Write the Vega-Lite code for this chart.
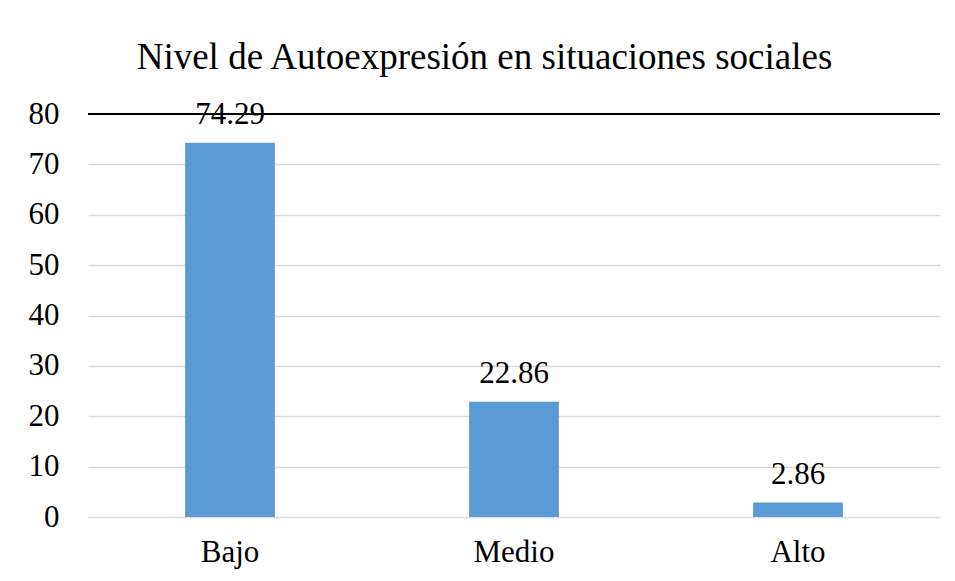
{
  "$schema": "https://vega.github.io/schema/vega-lite/v6.json",
  "autosize": {"type": "none"},
  "width": 852,
  "height": 403,
  "padding": {"left": 88, "top": 114, "right": 15, "bottom": 64},
  "background": "white",
  "title": {
    "text": "Nivel de Autoexpresión en situaciones sociales",
    "font": "Liberation Serif",
    "fontSize": 37,
    "fontWeight": "normal",
    "color": "#000000",
    "anchor": "middle",
    "frame": "bounds",
    "offset": 21,
    "limit": 0
  },
  "config": {
    "font": "Liberation Serif",
    "view": {"stroke": null},
    "text": {"font": "Liberation Serif"},
    "axis": {
      "labelFont": "Liberation Serif",
      "labelColor": "#000000",
      "labelFontSize": 31,
      "ticks": false,
      "domain": false,
      "title": null
    }
  },
  "data": {
    "values": [
      {"nivel": "Bajo", "pct": 74.29},
      {"nivel": "Medio", "pct": 22.86},
      {"nivel": "Alto", "pct": 2.86}
    ]
  },
  "encoding": {
    "x": {
      "field": "nivel",
      "type": "nominal",
      "sort": null,
      "scale": {"paddingInner": 0.684, "paddingOuter": 0.342},
      "axis": {"labelAngle": 0, "labelPadding": 20, "grid": false, "labelFont": "Liberation Serif", "labelFontSize": 31}
    }
  },
  "layer": [
    {
      "mark": {"type": "bar", "color": "#5B9BD5"},
      "encoding": {
        "y": {
          "field": "pct",
          "type": "quantitative",
          "scale": {"domain": [0, 80], "nice": false},
          "axis": {
            "values": [0, 10, 20, 30, 40, 50, 60, 70, 80],
            "grid": true,
            "gridColor": "#d9d9d9",
            "gridWidth": 1.5,
            "labelPadding": 29,
            "labelFont": "Liberation Serif",
            "labelFontSize": 31
          }
        }
      }
    },
    {
      "data": {"values": [{"top": 80}]},
      "mark": {"type": "rule", "color": "#000000", "strokeWidth": 2},
      "encoding": {"y": {"field": "top", "type": "quantitative"}, "x": null}
    },
    {
      "mark": {"type": "text", "font": "Liberation Serif", "fontSize": 31, "color": "#000000", "baseline": "alphabetic", "dy": -19},
      "encoding": {
        "y": {"field": "pct", "type": "quantitative"},
        "text": {"field": "pct", "type": "quantitative", "format": ".2f"}
      }
    }
  ]
}
